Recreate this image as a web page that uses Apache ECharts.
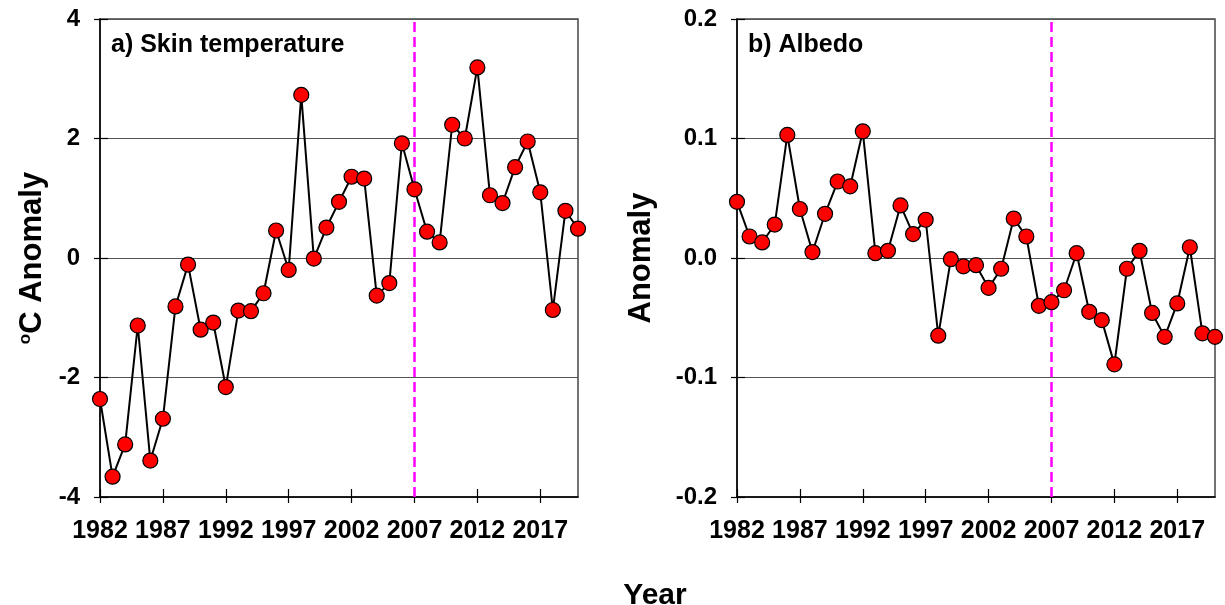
<!DOCTYPE html>
<html>
<head>
<meta charset="utf-8">
<script src="https://cdn.jsdelivr.net/npm/echarts@6/dist/echarts.min.js"></script>
<style>
  html, body { margin: 0; padding: 0; background: #fff; }
  #main { width: 1225px; height: 605px; }
</style>
</head>
<body>
<div id="main"></div>
<script>
// years on the x axis
var years = [1982,1983,1984,1985,1986,1987,1988,1989,1990,1991,1992,1993,1994,1995,1996,1997,1998,1999,2000,
             2001,2002,2003,2004,2005,2006,2007,2008,2009,2010,2011,2012,2013,2014,2015,2016,2017,2018,2019,2020];

// labelled years under each panel
var yearTicks = [1982,1987,1992,1997,2002,2007,2012,2017];

// a) skin temperature anomaly (oC)
var skinTemp = [-2.36,-3.66,-3.12,-1.13,-3.39,-2.69,-0.81,-0.11,-1.20,-1.08,-2.16,-0.88,-0.89,-0.59,0.46,-0.20,2.73,-0.01,0.51,
                0.94,1.36,1.33,-0.63,-0.42,1.92,1.15,0.44,0.26,2.23,2.00,3.19,1.05,0.92,1.52,1.95,1.10,-0.87,0.79,0.49];

// b) albedo anomaly
var albedo = [0.047,0.018,0.013,0.028,0.103,0.041,0.005,0.037,0.064,0.060,0.106,0.004,0.006,0.044,0.020,0.032,-0.065,-0.001,-0.007,
              -0.006,-0.025,-0.009,0.033,0.018,-0.040,-0.037,-0.027,0.004,-0.045,-0.052,-0.089,-0.009,0.006,-0.046,-0.066,-0.038,0.009,-0.063,-0.066];

var breakYear = 2007;
var panelTitles = ["a) Skin temperature", "b) Albedo"];

var FONT = "Liberation Sans, Arial, sans-serif";

function pairs(vals){
    return years.map(function(y, i){ return [y, vals[i]]; });
}

function xAxisFor(idx){
    return {
        type: "value",
        gridIndex: idx,
        position: "bottom",
        min: 1982, max: 2020, interval: 5,
        axisLine: { show: true, onZero: false, lineStyle: { color: "#000", width: 1.5 } },
        axisTick: { show: true, inside: true, length: 8, customValues: yearTicks, lineStyle: { color: "#000", width: 1.2 } },
        axisLabel: {
            showMaxLabel: false, margin: 22, color: "#000", fontFamily: FONT, fontWeight: "bold", fontSize: 25,
            formatter: function(v){ return String(v); }
        },
        splitLine: { show: false }
    };
}

// second axis only for the part of each tick that pokes outside the frame
function xTickOut(idx){
    return {
        type: "value", gridIndex: idx, position: "bottom",
        min: 1982, max: 2020, interval: 5,
        axisLine: { show: false, onZero: false },
        axisTick: { show: true, inside: false, length: 6, customValues: yearTicks, lineStyle: { color: "#000", width: 1.2 } },
        axisLabel: { show: false },
        splitLine: { show: false }
    };
}

function yAxisFor(idx, min, max, step, digits, name, gap){
    return {
        type: "value",
        gridIndex: idx,
        position: "left",
        min: min, max: max, interval: step,
        axisLine: { show: true, onZero: false, lineStyle: { color: "#000", width: 1.5 } },
        axisTick: { show: true, inside: true, length: 8, lineStyle: { color: "#000", width: 1.2 } },
        axisLabel: {
            margin: 20, color: "#000", fontFamily: FONT, fontWeight: "bold", fontSize: 24,
            formatter: function(v){ return digits ? v.toFixed(digits) : String(Math.round(v)); }
        },
        splitLine: { show: true, lineStyle: { color: "#555", width: 1 } },
        name: name,
        nameLocation: "middle",
        nameGap: gap,
        nameTextStyle: {
            color: "#000", fontFamily: FONT, fontWeight: "bold", fontSize: 31,
            rich: { sup: { fontSize: 17, fontWeight: "bold", fontFamily: FONT, color: "#000", verticalAlign: "top", padding: [0,0,14,0] } }
        }
    };
}

function yTickOut(idx, min, max, step){
    return {
        type: "value", gridIndex: idx, position: "left",
        min: min, max: max, interval: step,
        axisLine: { show: false, onZero: false },
        axisTick: { show: true, inside: false, length: 6, lineStyle: { color: "#000", width: 1.2 } },
        axisLabel: { show: false },
        splitLine: { show: false }
    };
}

function seriesFor(idx, vals){
    return {
        type: "line",
        xAxisIndex: idx, yAxisIndex: idx,
        data: pairs(vals),
        clip: false,
        symbol: "circle",
        symbolSize: 15,
        itemStyle: { color: "#ff0000", borderColor: "#000", borderWidth: 1.2 },
        lineStyle: { color: "#000", width: 2 },
        z: 3,
        markLine: {
            silent: true,
            symbol: "none",
            label: { show: false },
            lineStyle: { color: "#ff00ff", type: [10, 5], width: 2.5 },
            data: [{ xAxis: breakYear }],
            z: 2
        }
    };
}

var myChart = echarts.init(document.getElementById("main"), null, { renderer: "canvas" });

var option = {
    backgroundColor: "#fff",
    animation: false,
    title: [
        { text: panelTitles[0], left: 106, top: 28, textStyle: { fontFamily: FONT, fontWeight: "bold", fontSize: 25, color: "#000" } },
        { text: panelTitles[1], left: 743, top: 28, textStyle: { fontFamily: FONT, fontWeight: "bold", fontSize: 25, color: "#000" } },
        { text: "Year", left: 650, top: 576, textAlign: "center", textStyle: { fontFamily: FONT, fontWeight: "bold", fontSize: 30, color: "#000" } }
    ],
    grid: [
        { left: 100, top: 19, width: 478, height: 478, show: true, borderColor: "#444", borderWidth: 1.5, backgroundColor: "transparent" },
        { left: 737, top: 19, width: 478, height: 478, show: true, borderColor: "#444", borderWidth: 1.5, backgroundColor: "transparent" }
    ],
    xAxis: [ xAxisFor(0), xAxisFor(1), xTickOut(0), xTickOut(1) ],
    yAxis: [
        yAxisFor(0, -4, 4, 2, 0, "{sup|o}C Anomaly", 52),
        yAxisFor(1, -0.2, 0.2, 0.1, 1, "Anomaly", 80),
        yTickOut(0, -4, 4, 2),
        yTickOut(1, -0.2, 0.2, 0.1)
    ],
    series: [ seriesFor(0, skinTemp), seriesFor(1, albedo) ]
};

myChart.setOption(option);
</script>
</body>
</html>
